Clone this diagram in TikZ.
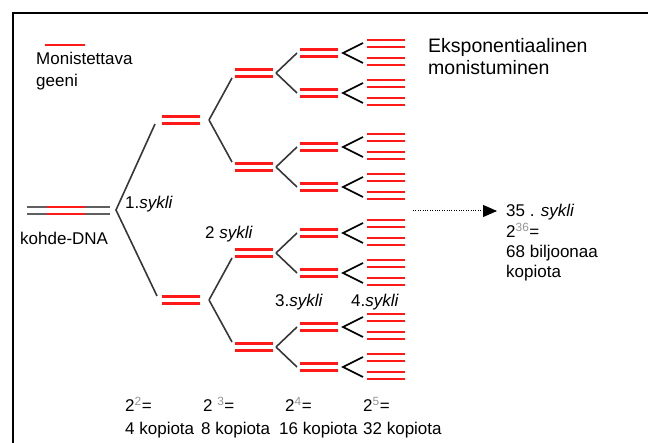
\documentclass[tikz,border=0pt]{standalone}
\usepackage{fontspec}
\setmainfont{Liberation Sans}
\usetikzlibrary{arrows.meta}
\definecolor{barred}{RGB}{255,25,25}
\definecolor{conn}{RGB}{55,55,55}
\definecolor{dnagray}{RGB}{95,95,95}
\definecolor{supgray}{RGB}{150,150,150}
\newcommand\syk{\textit{sykli}}
\newcommand\gsup[1]{\textsuperscript{\color{supgray}#1}}
\tikzset{
  redbar/.style={draw=barred, line width=2.9pt},
  dnaline/.style={draw=dnagray, line width=1.7pt},
  connector/.style={draw=conn, line width=1.6pt},
  lbl/.style={anchor=base west, inner sep=0pt, font=\fontsize{17}{17}\selectfont},
  biglbl/.style={anchor=base west, inner sep=0pt, font=\fontsize{19.5}{19.5}\selectfont},
  pics/dbar/.style={code={
    \draw[redbar] (0,-3.5) -- (38,-3.5);
    \draw[redbar] (0,3.5) -- (38,3.5);}}
}
\begin{document}
\begin{tikzpicture}[x=1pt,y=-1pt]
\useasboundingbox (0,0) rectangle (648,443);
\clip (0,0) rectangle (648,443);
\fill[white] (0,0) rectangle (648,443);
% frame
\draw[line width=2pt] (13,500) -- (13,13) -- (700,13);
% legend
\draw[redbar, line width=2.2pt] (45,45) -- (85,45);
\node[lbl] (mon) at (36,65) {Monistettava};
\node[lbl] (geeni) at (36,87) {geeni};
% title
\node[biglbl] (eksp) at (428,53) {Eksponentiaalinen};
\node[biglbl] (monist) at (428,75) {monistuminen};
% target DNA
\draw[dnaline] (27,207) -- (110,207);
\draw[dnaline] (27,214) -- (110,214);
\draw[redbar] (47,207) -- (85,207);
\draw[redbar] (47,214) -- (85,214);
\node[lbl] (kohde) at (20,245) {kohde-DNA};
% first branching
\coordinate (v0) at (116,210);
\coordinate (e1-1) at (155,124);
\coordinate (e1-2) at (157,296);
\draw[connector] (e1-1) -- (v0) -- (e1-2);
\foreach \i/\c in {1/120, 2/300} {
  \pic at (162,\c) {dbar};
  \coordinate (v1-\i) at (209,\c);
  \foreach \j/\s in {1/-1, 2/1} {
    \pgfmathsetmacro\cc{\c+47*\s}
    \pgfmathsetmacro\ce{\cc-5*\s}
    \pic at (235,\cc) {dbar};
    \coordinate (e2-\i-\j) at (232,\ce);
    \draw[connector] (v1-\i) -- (e2-\i-\j);
    \coordinate (v2-\i-\j) at (276,\cc);
    \foreach \k/\t in {1/-1, 2/1} {
      \pgfmathsetmacro\ccc{\cc+20*\t}
      \pgfmathsetmacro\cup{\ccc-10}
      \pgfmathsetmacro\cdn{\ccc+10}
      \pic at (300,\ccc) {dbar};
      \coordinate (e3-\i-\j-\k) at (297,\ccc);
      \draw[connector] (v2-\i-\j) -- (e3-\i-\j-\k);
      \coordinate (v3-\i-\j-\k) at (343,\ccc);
      \coordinate (e4a-\i-\j-\k) at (363,\cup);
      \coordinate (e4b-\i-\j-\k) at (363,\cdn);
      \draw[connector, draw=black] (e4a-\i-\j-\k) -- (v3-\i-\j-\k) -- (e4b-\i-\j-\k);
      \foreach \o in {-13,-6,5,12} {
        \pgfmathsetmacro\yy{\ccc+\o}
        \draw[redbar] (367,\yy) -- (405,\yy);
      }
    }
  }
}
% cycle labels
\node[lbl] (s1) at (125,209) {1.\syk};
\node[lbl] (s2) at (205,239) {2 \syk};
\node[lbl] (s3) at (275,307) {3.\syk};
\node[lbl] (s4) at (351,307) {4.\syk};
% dotted arrow to cycle 35
\coordinate (arrs) at (413,211);
\coordinate (arre) at (497,211);
\draw[line width=1pt, dash pattern=on 1pt off 1.4pt, -{Triangle[length=14pt,width=12pt]}] (arrs) -- (arre);
\node[lbl] (s35) at (506,217) {35 . \syk};
\node[lbl] (p36) at (506,238) {2\gsup{36}=};
\node[lbl] (bil) at (506,258) {68 biljoonaa};
\node[lbl] (kop) at (506,278) {kopiota};
% bottom counts
\node[lbl] (p2) at (125,412) {2\gsup{2}=};
\node[lbl] (p3) at (203,412) {2 \gsup{3}=};
\node[lbl] (p4) at (285,412) {2\gsup{4}=};
\node[lbl] (p5) at (363,412) {2\gsup{5}=};
\node[lbl] (k4) at (125,435) {4 kopiota};
\node[lbl] (k8) at (201,435) {8 kopiota};
\node[lbl] (k16) at (279,435) {16 kopiota};
\node[lbl] (k32) at (363,435) {32 kopiota};
\end{tikzpicture}
\end{document}
